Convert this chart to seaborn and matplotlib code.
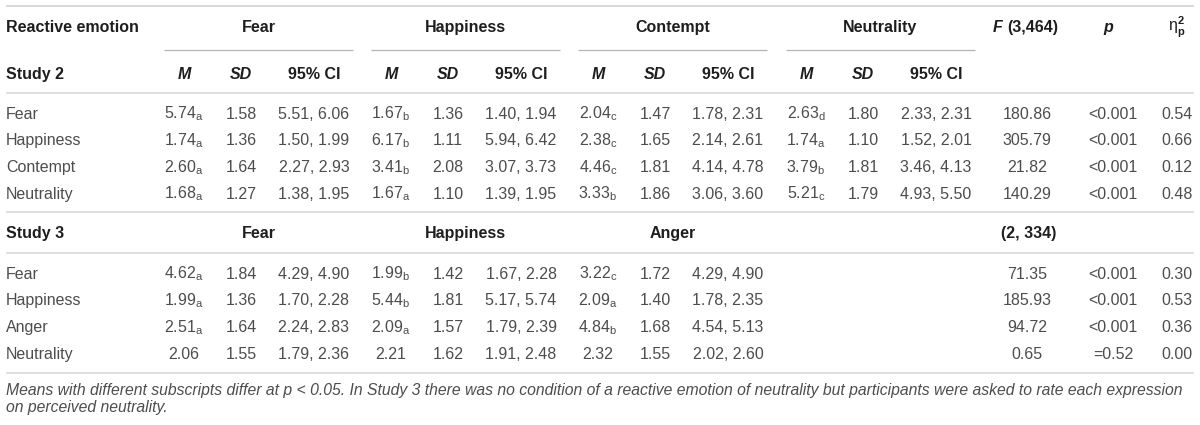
import matplotlib
matplotlib.use("Agg")
import matplotlib.pyplot as plt
import seaborn as sns

# ---------------- data ----------------
groups_s2 = ["Fear", "Happiness", "Contempt", "Neutrality"]
groups_s3 = ["Fear", "Happiness", "Anger"]
rows_s2 = ["Fear", "Happiness", "Contempt", "Neutrality"]
rows_s3 = ["Fear", "Happiness", "Anger", "Neutrality"]
sub_headers = ["M", "SD", "95% CI"]
df_s2 = "(3,464)"
df_s3 = "(2, 334)"

# Study 2 (rows = reactive emotion, per expression group)
s2_fear_m = [5.74, 1.74, 2.60, 1.68]
s2_fear_sub = ["a", "a", "a", "a"]
s2_fear_sd = [1.58, 1.36, 1.64, 1.27]
s2_fear_ci = [(5.51, 6.06), (1.50, 1.99), (2.27, 2.93), (1.38, 1.95)]

s2_hap_m = [1.67, 6.17, 3.41, 1.67]
s2_hap_sub = ["b", "b", "b", "a"]
s2_hap_sd = [1.36, 1.11, 2.08, 1.10]
s2_hap_ci = [(1.40, 1.94), (5.94, 6.42), (3.07, 3.73), (1.39, 1.95)]

s2_con_m = [2.04, 2.38, 4.46, 3.33]
s2_con_sub = ["c", "c", "c", "b"]
s2_con_sd = [1.47, 1.65, 1.81, 1.86]
s2_con_ci = [(1.78, 2.31), (2.14, 2.61), (4.14, 4.78), (3.06, 3.60)]

s2_neu_m = [2.63, 1.74, 3.79, 5.21]
s2_neu_sub = ["d", "a", "b", "c"]
s2_neu_sd = [1.80, 1.10, 1.81, 1.79]
s2_neu_ci = [(2.33, 2.31), (1.52, 2.01), (3.46, 4.13), (4.93, 5.50)]

s2_F = [180.86, 305.79, 21.82, 140.29]
s2_p = ["<0.001", "<0.001", "<0.001", "<0.001"]
s2_eta = [0.54, 0.66, 0.12, 0.48]

# Study 3
s3_fear_m = [4.62, 1.99, 2.51, 2.06]
s3_fear_sub = ["a", "a", "a", ""]
s3_fear_sd = [1.84, 1.36, 1.64, 1.55]
s3_fear_ci = [(4.29, 4.90), (1.70, 2.28), (2.24, 2.83), (1.79, 2.36)]

s3_hap_m = [1.99, 5.44, 2.09, 2.21]
s3_hap_sub = ["b", "b", "a", ""]
s3_hap_sd = [1.42, 1.81, 1.57, 1.62]
s3_hap_ci = [(1.67, 2.28), (5.17, 5.74), (1.79, 2.39), (1.91, 2.48)]

s3_ang_m = [3.22, 2.09, 4.84, 2.32]
s3_ang_sub = ["c", "a", "b", ""]
s3_ang_sd = [1.72, 1.40, 1.68, 1.55]
s3_ang_ci = [(4.29, 4.90), (1.78, 2.35), (4.54, 5.13), (2.02, 2.60)]

s3_F = [71.35, 185.93, 94.72, 0.65]
s3_p = ["<0.001", "<0.001", "<0.001", "=0.52"]
s3_eta = [0.30, 0.53, 0.36, 0.00]

footnote_1 = ("Means with different subscripts differ at p < 0.05. In Study 3 there was no condition "
              "of a reactive emotion of neutrality but participants were asked to rate each expression")
footnote_2 = "on perceived neutrality."

# ---------------- style ----------------
sns.set_theme(style="white")
plt.rcParams["font.family"] = ["Liberation Sans", "DejaVu Sans"]
plt.rcParams["mathtext.fontset"] = "custom"
plt.rcParams["mathtext.rm"] = "Liberation Sans"
plt.rcParams["mathtext.it"] = "Liberation Sans:italic"
plt.rcParams["mathtext.bf"] = "Liberation Sans:bold"

FS = 11.5
FS_NOTE = 11.3
BODY = "#4d4d4d"
HEAD = "#1e1e1e"
RULE = "#d6d6d6"
GRULE = "#b4b4b4"

fig = plt.figure(figsize=(12, 4.25), dpi=100)
ax = fig.add_axes([0, 0, 1, 1])
ax.set_xlim(0, 1200)
ax.set_ylim(425, 0)
ax.axis("off")

# layout (pixel-like units)
L, R = 6, 1194
group_x0 = [164, 371, 578, 786]
group_w = 189
col_off = [20, 77, 150]
x_F, x_p, x_eta = 1027, 1113, 1177
base = 5.6

def txt(x, y, s, ha="center", color=BODY, **kw):
    ax.text(x, y + base, s, ha=ha, va="baseline", fontsize=kw.pop("fs", FS), color=color, **kw)

def hline(y, x0=L, x1=R, color=RULE, lw=1.1):
    ax.plot([x0, x1], [y, y], color=color, lw=lw, solid_capstyle="butt")

def fmt_m(v, sub):
    return f"{v:.2f}" + (r"$_{\mathrm{" + sub + "}}$" if sub else "")

# rules
hline(6, lw=1.3)
for g0 in group_x0:
    hline(50, g0, g0 + group_w, color=GRULE, lw=0.9)
for y in [93, 212, 253, 373]:
    hline(y)

# header
txt(L, 26, "Reactive emotion", ha="left", color=HEAD, fontweight="bold")
for g, g0 in zip(groups_s2, group_x0):
    txt(g0 + group_w / 2, 26, g, color=HEAD, fontweight="bold")
txt(993, 26, "F", ha="left", color=HEAD, fontweight="bold", fontstyle="italic")
txt(1007, 26, df_s2, ha="left", color=HEAD, fontweight="bold")
txt(1108, 26, "p", color=HEAD, fontweight="bold", fontstyle="italic")
txt(x_eta, 26, r"η$_{\mathbf{p}}^{\mathbf{2}}$", color=HEAD)

txt(L, 73, "Study 2", ha="left", color=HEAD, fontweight="bold")
for g0 in group_x0:
    for h, off in zip(sub_headers, col_off):
        style = "normal" if h.startswith("95") else "italic"
        txt(g0 + off, 73, h, color=HEAD, fontweight="bold", fontstyle=style)

def draw_block(y0, rows, blocks, F, P, ETA):
    for i, r in enumerate(rows):
        y = y0 + i * 26.7
        txt(L, y, r, ha="left")
        for (m, sub, sd, ci), g0 in zip(blocks, group_x0):
            txt(g0 + col_off[0], y, fmt_m(m[i], sub[i]))
            txt(g0 + col_off[1], y, f"{sd[i]:.2f}")
            txt(g0 + col_off[2], y, f"{ci[i][0]:.2f}, {ci[i][1]:.2f}")
        txt(x_F, y, f"{F[i]:.2f}")
        txt(x_p, y, P[i])
        txt(x_eta, y, f"{ETA[i]:.2f}")

draw_block(113, rows_s2,
           [(s2_fear_m, s2_fear_sub, s2_fear_sd, s2_fear_ci),
            (s2_hap_m, s2_hap_sub, s2_hap_sd, s2_hap_ci),
            (s2_con_m, s2_con_sub, s2_con_sd, s2_con_ci),
            (s2_neu_m, s2_neu_sub, s2_neu_sd, s2_neu_ci)],
           s2_F, s2_p, s2_eta)

txt(L, 232, "Study 3", ha="left", color=HEAD, fontweight="bold")
for g, g0 in zip(groups_s3, group_x0):
    txt(g0 + group_w / 2, 232, g, color=HEAD, fontweight="bold")
txt(1029, 232, df_s3, color=HEAD, fontweight="bold")

draw_block(273, rows_s3,
           [(s3_fear_m, s3_fear_sub, s3_fear_sd, s3_fear_ci),
            (s3_hap_m, s3_hap_sub, s3_hap_sd, s3_hap_ci),
            (s3_ang_m, s3_ang_sub, s3_ang_sd, s3_ang_ci)],
           s3_F, s3_p, s3_eta)

txt(L, 389.5, footnote_1, ha="left", fontstyle="italic", fs=FS_NOTE)
txt(L, 406.5, footnote_2, ha="left", fontstyle="italic", fs=FS_NOTE)

fig.savefig("out.png", dpi=100, facecolor="white")
